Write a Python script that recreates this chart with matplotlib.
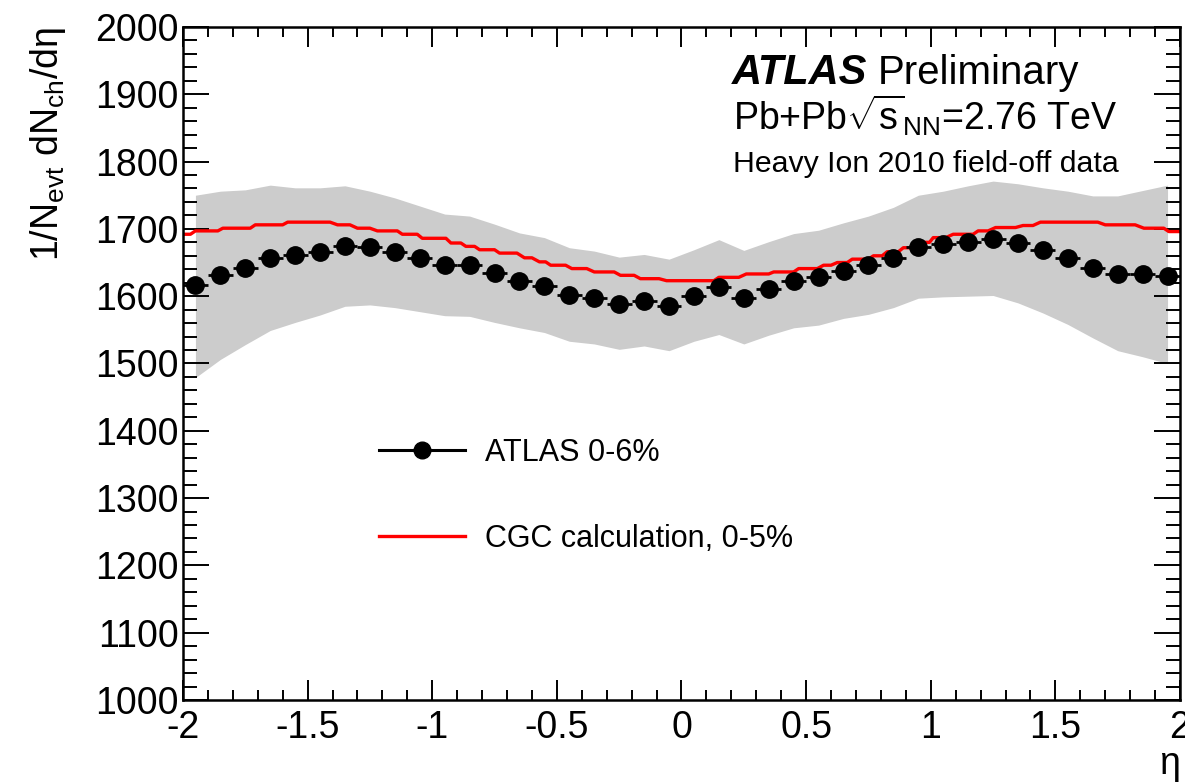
import numpy as np
import matplotlib
matplotlib.use('Agg')
import matplotlib.pyplot as plt
from matplotlib.lines import Line2D
from matplotlib.ticker import MultipleLocator

plt.rcParams['font.family'] = ['Liberation Sans', 'DejaVu Sans']
plt.rcParams['mathtext.fontset'] = 'custom'
plt.rcParams['mathtext.rm'] = 'Liberation Sans'
plt.rcParams['mathtext.it'] = 'Liberation Sans:italic'
plt.rcParams['mathtext.bf'] = 'Liberation Sans:bold'

# bin centres in eta
eta = [-1.95, -1.85, -1.75, -1.65, -1.55, -1.45, -1.35, -1.25, -1.15, -1.05,
       -0.95, -0.85, -0.75, -0.65, -0.55, -0.45, -0.35, -0.25, -0.15, -0.05,
       0.05, 0.15, 0.25, 0.35, 0.45, 0.55, 0.65, 0.75, 0.85, 0.95,
       1.05, 1.15, 1.25, 1.35, 1.45, 1.55, 1.65, 1.75, 1.85, 1.95]

# ATLAS 0-6% dN/deta
atlas_dndeta = [1617, 1632, 1642, 1657, 1661, 1666, 1674, 1673, 1665, 1656,
                1646, 1646, 1634, 1622, 1615, 1602, 1598, 1589, 1593, 1585,
                1600, 1614, 1597, 1610, 1622, 1628, 1638, 1646, 1657, 1673,
                1677, 1681, 1685, 1679, 1669, 1656, 1642, 1633, 1633, 1630]

# systematic band
syst_hi = [1750, 1756, 1758, 1765, 1761, 1761, 1764, 1756, 1746, 1734,
           1722, 1719, 1707, 1694, 1687, 1672, 1667, 1658, 1662, 1655,
           1669, 1684, 1668, 1681, 1693, 1698, 1709, 1719, 1732, 1750,
           1756, 1764, 1771, 1767, 1761, 1756, 1749, 1749, 1757, 1765]
syst_lo = [1479, 1506, 1528, 1549, 1561, 1572, 1585, 1587, 1583, 1577,
           1571, 1570, 1561, 1553, 1546, 1533, 1529, 1521, 1526, 1519,
           1533, 1543, 1529, 1542, 1553, 1557, 1567, 1573, 1583, 1597,
           1599, 1600, 1601, 1590, 1575, 1558, 1538, 1519, 1510, 1500]

# CGC calculation, 0-5%: plateaus (eta start, eta end, value)
cgc_start = [-2.00, -1.95, -1.84, -1.71, -1.58, -1.38, -1.30, -1.22, -1.12, -1.04,
             -0.925, -0.865, -0.81, -0.73, -0.63, -0.57, -0.525, -0.44, -0.35, -0.245,
             -0.165, -0.06, 0.15, 0.26, 0.37, 0.47, 0.57, 0.625, 0.685, 0.77,
             0.825, 0.89, 0.96, 1.01, 1.09, 1.19, 1.26, 1.37, 1.44, 1.70,
             1.855, 1.955]
cgc_end = [-1.97, -1.86, -1.73, -1.60, -1.41, -1.33, -1.25, -1.14, -1.06, -0.945,
           -0.885, -0.83, -0.75, -0.66, -0.60, -0.545, -0.465, -0.38, -0.27, -0.19,
           -0.09, 0.13, 0.23, 0.35, 0.45, 0.545, 0.60, 0.665, 0.75, 0.805,
           0.87, 0.94, 0.995, 1.06, 1.17, 1.23, 1.34, 1.41, 1.67, 1.82,
           1.935, 2.00]
cgc_val = [1692, 1697, 1701, 1706, 1710, 1706, 1701, 1697, 1692, 1686,
           1679, 1674, 1669, 1664, 1657, 1651, 1646, 1641, 1636, 1631,
           1626, 1623, 1628, 1633, 1636, 1641, 1646, 1650, 1655, 1660,
           1666, 1672, 1680, 1687, 1692, 1697, 1702, 1705, 1710, 1706,
           1701, 1696]

cgc_x = []
cgc_y = []
for s, e, v in zip(cgc_start, cgc_end, cgc_val):
    cgc_x += [s, e]
    cgc_y += [v, v]

fig = plt.figure(figsize=(11.85, 7.82), dpi=100)
ax = fig.add_axes([0.1544, 0.1049, 0.8414, 0.8606])

ax.fill_between(eta, syst_lo, syst_hi, color='#cccccc', lw=0, zorder=1)
ax.plot(cgc_x, cgc_y, color='red', lw=2.4, zorder=2)
ax.errorbar(eta, atlas_dndeta, xerr=0.05, fmt='o', color='black', ms=12.5,
            elinewidth=2, capsize=0, zorder=3)

ax.set_xlim(-2, 2)
ax.set_ylim(1000, 2000)
ax.xaxis.set_major_locator(MultipleLocator(0.5))
ax.xaxis.set_minor_locator(MultipleLocator(0.1))
ax.yaxis.set_major_locator(MultipleLocator(100))
ax.yaxis.set_minor_locator(MultipleLocator(20))
ax.set_xticks([-2, -1.5, -1, -0.5, 0, 0.5, 1, 1.5, 2])
ax.set_xticklabels(['-2', '-1.5', '-1', '-0.5', '0', '0.5', '1', '1.5', '2'])

ax.tick_params(axis='both', which='both', direction='in', top=True, right=True,
               width=1.4, labelsize=27)
ax.tick_params(axis='x', which='major', length=14.4, pad=7)
ax.tick_params(axis='x', which='minor', length=7.2)
ax.tick_params(axis='y', which='major', length=19, pad=3)
ax.tick_params(axis='y', which='minor', length=10)
for sp in ax.spines.values():
    sp.set_linewidth(1.8)

ax.set_ylabel(r'1/N$_{\mathrm{evt}}$ dN$_{\mathrm{ch}}$/d$\mathrm{\eta}$',
              fontsize=27, loc='top', labelpad=20)
ax.set_xlabel('η', fontsize=27, loc='right', labelpad=0)

ax.text(0.551, 0.915, 'ATLAS', transform=ax.transAxes, fontsize=30,
        fontweight='bold', fontstyle='italic')
ax.text(0.697, 0.915, 'Preliminary', transform=ax.transAxes, fontsize=29)
ax.text(0.552, 0.847, r'Pb+Pb$\sqrt{\mathrm{s}}_{\mathrm{NN}}$=2.76 TeV',
        transform=ax.transAxes, fontsize=27)
ax.text(0.552, 0.784, 'Heavy Ion 2010 field-off data', transform=ax.transAxes,
        fontsize=21.8)

handles = [Line2D([], [], color='black', lw=2.2, marker='o', ms=12),
           Line2D([], [], color='red', lw=2.4)]
ax.legend(handles, ['ATLAS 0-6%', 'CGC calculation, 0-5%'], loc='upper left',
          bbox_to_anchor=(0.197, 0.39), frameon=False, fontsize=22,
          handlelength=2.8, handletextpad=0.65, labelspacing=1.85, borderpad=0,
          borderaxespad=0)

fig.savefig('out.png', dpi=100)
